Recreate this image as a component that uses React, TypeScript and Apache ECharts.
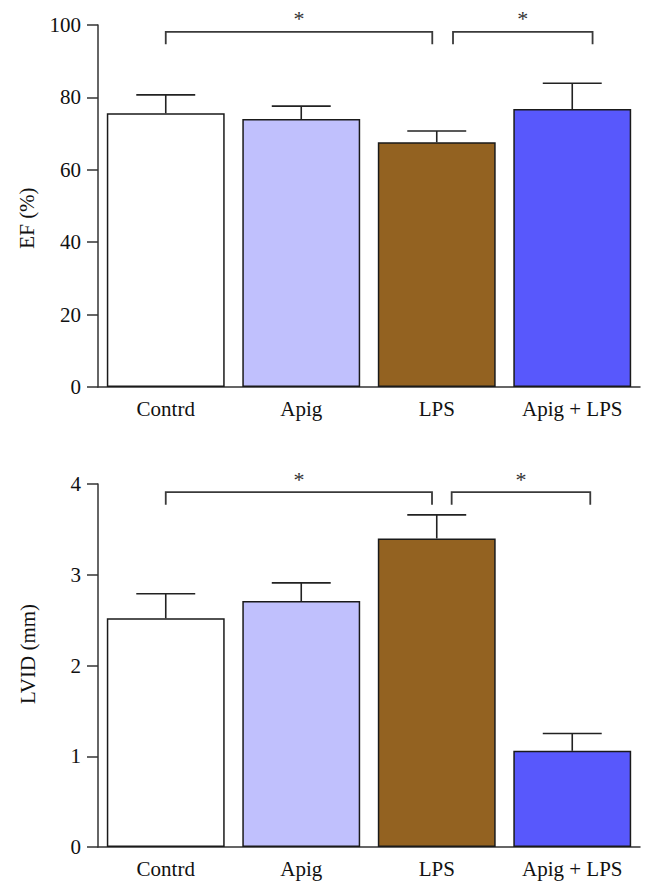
import React, { useEffect, useRef } from "react";
import * as echarts from "echarts";

const categories = ["Contrd", "Apig", "LPS", "Apig + LPS"];
const barColors = ["#ffffff", "#c0c0fd", "#936221", "#5858fc"];

const efMeans = [75.6, 74.0, 67.6, 76.8];
const efUpper = [80.7, 77.6, 70.7, 83.9];
const lvidMeans = [2.52, 2.71, 3.4, 1.06];
const lvidUpper = [2.79, 2.91, 3.66, 1.25];

// [fromCategory, fromOffset(band fraction), toCategory, toOffset, topY, dropY]
const efBrackets = [
  [0, 0, 2, -0.033, 98.1, 94.7],
  [2, 0.12, 3, 0.15, 98.1, 94.7],
];
const lvidBrackets = [
  [0, 0, 2, -0.035, 3.91, 3.77],
  [2, 0.11, 3, 0.133, 3.91, 3.77],
];

const efTicks = { min: 0, max: 100, interval: 20 };
const lvidTicks = { min: 0, max: 4, interval: 1 };

const FONT = "'Liberation Serif', 'DejaVu Serif', 'Times New Roman', serif";
const AXIS_COLOR = "#333333";
const FS = 21;

export default function App() {
  const ref = useRef<HTMLDivElement>(null);

  useEffect(() => {
    document.body.style.margin = "0";
    if (!ref.current) return;
    const chart = echarts.init(ref.current, null, { renderer: "svg" });

    const xAxisBase = (gridIndex: number) => ({
      type: "category",
      gridIndex,
      data: categories,
      axisTick: { show: false },
      axisLine: { lineStyle: { color: AXIS_COLOR, width: 1.5 } },
      axisLabel: { fontFamily: FONT, fontSize: FS, color: "#111", margin: 11 },
    });
    const yAxisBase = (gridIndex: number, t: any) => ({
      type: "value",
      gridIndex,
      min: t.min,
      max: t.max,
      interval: t.interval,
      splitLine: { show: false },
      axisLine: { show: true, lineStyle: { color: AXIS_COLOR, width: 1.5 } },
      axisTick: { show: true, length: 11, lineStyle: { color: AXIS_COLOR, width: 1.5 } },
      axisLabel: { fontFamily: FONT, fontSize: FS, color: "#111", margin: 17 },
    });

    const barSeries = (idx: number, values: number[]) => ({
      type: "bar",
      xAxisIndex: idx,
      yAxisIndex: idx,
      barCategoryGap: "13%",
      data: values.map((v, i) => ({
        value: v,
        itemStyle: { color: barColors[i], borderColor: "#1a1a1a", borderWidth: 1.5 },
      })),
      z: 2,
    });

    const errorSeries = (idx: number, means: number[], upper: number[]) => ({
      type: "custom",
      xAxisIndex: idx,
      yAxisIndex: idx,
      z: 3,
      data: means.map((m, i) => [i, m, upper[i]]),
      encode: { x: 0, y: [1, 2] },
      renderItem: (params: any, api: any) => {
        const i = api.value(0);
        const p0 = api.coord([i, api.value(1)]);
        const p1 = api.coord([i, api.value(2)]);
        const band = api.size([1, 0])[0];
        const half = band * 0.87 * 0.25;
        const style = { stroke: "#222", lineWidth: 1.6 };
        return {
          type: "group",
          children: [
            { type: "line", shape: { x1: p0[0], y1: p0[1], x2: p1[0], y2: p1[1] }, style },
            { type: "line", shape: { x1: p1[0] - half, y1: p1[1], x2: p1[0] + half, y2: p1[1] }, style },
          ],
        };
      },
    });

    const bracketSeries = (idx: number, brackets: number[][]) => ({
      type: "custom",
      xAxisIndex: idx,
      yAxisIndex: idx,
      z: 4,
      data: brackets,
      encode: { x: [0, 2], y: [4, 5] },
      renderItem: (params: any, api: any) => {
        const band = api.size([1, 0])[0];
        const a = api.coord([api.value(0), api.value(4)]);
        const b = api.coord([api.value(2), api.value(4)]);
        const drop = api.coord([api.value(0), api.value(5)])[1];
        const x1 = a[0] + api.value(1) * band;
        const x2 = b[0] + api.value(3) * band;
        const y = a[1];
        return {
          type: "group",
          children: [
            {
              type: "polyline",
              shape: { points: [[x1, drop], [x1, y], [x2, y], [x2, drop]] },
              style: { stroke: "#3a3a3a", lineWidth: 1.8, fill: "none" },
            },
            {
              type: "text",
              x: (x1 + x2) / 2,
              y: y - 2,
              style: {
                text: "*",
                fontFamily: FONT,
                fontSize: 22,
                fill: "#333",
                align: "center",
                verticalAlign: "bottom",
              },
            },
          ],
        };
      },
    });

    chart.setOption({
      animation: false,
      backgroundColor: "#ffffff",
      grid: [
        { left: 98, top: 25, width: 542, height: 362 },
        { left: 98, top: 484, width: 542, height: 363 },
      ],
      xAxis: [xAxisBase(0), xAxisBase(1)],
      yAxis: [yAxisBase(0, efTicks), yAxisBase(1, lvidTicks)],
      graphic: [
        {
          type: "text",
          x: 27,
          y: 218,
          rotation: Math.PI / 2,
          style: { text: "EF (%)", fontFamily: FONT, fontSize: FS, fill: "#111", align: "center", verticalAlign: "middle" },
        },
        {
          type: "text",
          x: 28,
          y: 654,
          rotation: Math.PI / 2,
          style: { text: "LVID (mm)", fontFamily: FONT, fontSize: FS, fill: "#111", align: "center", verticalAlign: "middle" },
        },
      ],
      series: [
        barSeries(0, efMeans),
        errorSeries(0, efMeans, efUpper),
        bracketSeries(0, efBrackets),
        barSeries(1, lvidMeans),
        errorSeries(1, lvidMeans, lvidUpper),
        bracketSeries(1, lvidBrackets),
      ],
    });

    return () => chart.dispose();
  }, []);

  return <div ref={ref} style={{ width: 656, height: 893 }} />;
}
